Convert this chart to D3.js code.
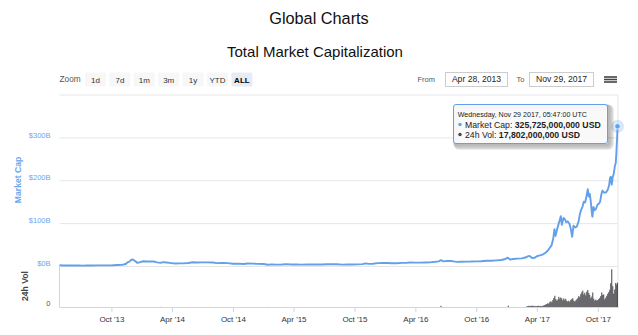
<!DOCTYPE html>
<html><head><meta charset="utf-8">
<script src="https://d3js.org/d3.v7.min.js"></script>
<style>
html,body{margin:0;padding:0;background:#fff;}
svg{display:block;font-family:"Liberation Sans",Arial,sans-serif;}
</style></head><body>
<svg id="c" width="638" height="335"></svg>
<script>
// ---------------- DATA ----------------
const pageTitle = "Global Charts";
const chartTitle = "Total Market Capitalization";
const zoomButtons = ["1d","7d","1m","3m","1y","YTD","ALL"];
const activeButton = "ALL";
const rangeFrom = "Apr 28, 2013";
const rangeTo = "Nov 29, 2017";

// total market cap, billions USD
const capDates = [
"2013-04-28","2013-05-10","2013-05-25","2013-06-10","2013-06-25","2013-07-05","2013-07-20","2013-08-05","2013-08-20","2013-09-05",
"2013-09-20","2013-10-05","2013-10-20","2013-10-31","2013-11-07","2013-11-14","2013-11-19","2013-11-24","2013-11-29","2013-12-04",
"2013-12-10","2013-12-18","2013-12-24","2014-01-05","2014-01-15","2014-01-28","2014-02-05","2014-02-15","2014-02-25","2014-03-05",
"2014-03-15","2014-03-25","2014-04-05","2014-04-12","2014-04-25","2014-05-05","2014-05-20","2014-06-03","2014-06-15","2014-07-01",
"2014-07-15","2014-08-01","2014-08-15","2014-09-01","2014-09-15","2014-10-01","2014-10-15","2014-11-01","2014-11-15","2014-12-01",
"2014-12-15","2015-01-01","2015-01-14","2015-01-25","2015-02-10","2015-02-25","2015-03-10","2015-03-25","2015-04-10","2015-04-25",
"2015-05-10","2015-05-25","2015-06-10","2015-06-25","2015-07-10","2015-07-25","2015-08-10","2015-08-25","2015-09-10","2015-09-25",
"2015-10-10","2015-10-25","2015-11-04","2015-11-12","2015-11-25","2015-12-10","2015-12-25","2016-01-10","2016-01-20","2016-02-05",
"2016-02-20","2016-03-05","2016-03-15","2016-04-01","2016-04-15","2016-05-01","2016-05-15","2016-05-31","2016-06-10","2016-06-17",
"2016-06-24","2016-07-05","2016-07-20","2016-08-03","2016-08-15","2016-09-01","2016-09-15","2016-10-01","2016-10-15","2016-11-01",
"2016-11-15","2016-12-01","2016-12-15","2016-12-25","2017-01-04","2017-01-11","2017-01-20","2017-02-01","2017-02-15","2017-02-25",
"2017-03-05","2017-03-10","2017-03-18","2017-03-25","2017-04-01","2017-04-10","2017-04-20","2017-04-28","2017-05-05","2017-05-10",
"2017-05-15","2017-05-20","2017-05-24","2017-05-27","2017-06-01","2017-06-06","2017-06-12","2017-06-15","2017-06-20","2017-06-25",
"2017-06-28","2017-07-03","2017-07-08","2017-07-12","2017-07-16","2017-07-20","2017-07-25","2017-07-30","2017-08-04","2017-08-08",
"2017-08-12","2017-08-16","2017-08-20","2017-08-24","2017-08-28","2017-09-01","2017-09-04","2017-09-07","2017-09-10","2017-09-14",
"2017-09-15","2017-09-18","2017-09-22","2017-09-26","2017-09-30","2017-10-04","2017-10-08","2017-10-12","2017-10-15","2017-10-19",
"2017-10-22","2017-10-26","2017-10-31","2017-11-04","2017-11-07","2017-11-09","2017-11-12","2017-11-15","2017-11-18","2017-11-21",
"2017-11-24","2017-11-26","2017-11-27","2017-11-28","2017-11-29T05:47:00Z"];
const capValues = [
1.58,1.32,1.40,1.15,1.14,0.85,1.04,1.17,1.34,1.46,
1.52,1.58,2.18,2.55,3.5,5.2,9.0,10.3,14.0,15.4,
12.0,7.3,8.6,11.0,10.6,10.8,10.4,8.5,7.3,9.0,
8.3,7.4,6.2,5.8,6.2,6.1,6.9,8.7,8.2,8.4,
8.5,8.1,6.7,6.9,6.6,5.4,5.5,4.8,5.7,5.5,
5.0,4.6,2.8,3.9,3.3,3.6,4.3,3.6,3.4,3.3,
3.5,3.4,3.4,3.6,4.2,4.3,4.1,3.3,3.6,3.6,
3.7,4.3,6.2,5.0,5.4,6.8,6.9,6.9,6.3,6.5,
7.3,7.4,8.1,7.8,7.9,8.3,8.5,9.8,10.8,13.5,
10.9,11.6,11.5,9.6,10.0,10.3,10.4,10.9,11.0,12.1,
12.2,13.2,13.9,15.7,19.3,14.8,16.3,17.2,17.9,19.8,
22.5,23.5,18.8,19.0,22.8,24.6,27.2,31.5,37.0,42.6,
48.0,62.8,86.0,70.0,86.0,100.0,116.0,96.0,112.0,108.0,
102.0,104.0,98.0,86.0,68.0,94.0,90.0,92.0,103.0,120.0,
131.0,138.0,150.0,148.0,162.0,179.0,162.0,168.0,150.0,118.0,
115.0,138.0,130.0,134.0,143.0,145.0,150.0,168.0,176.0,172.0,
171.0,172.0,178.0,188.0,206.0,208.0,190.0,208.0,215.0,232.0,
240.0,265.0,283.0,296.0,325.725];

// 24h volume, billions USD
const volDates = [
"2014-02-25","2015-01-15","2016-06-17","2017-01-05",
"2017-03-02","2017-03-05","2017-03-08","2017-03-11","2017-03-14","2017-03-17","2017-03-20","2017-03-23","2017-03-26","2017-03-29",
"2017-04-01","2017-04-04","2017-04-07","2017-04-10","2017-04-13","2017-04-16","2017-04-19","2017-04-22","2017-04-25","2017-04-28",
"2017-05-01","2017-05-04","2017-05-07","2017-05-10","2017-05-13","2017-05-16","2017-05-19","2017-05-22","2017-05-25","2017-05-28","2017-05-31",
"2017-06-03","2017-06-06","2017-06-09","2017-06-12","2017-06-15","2017-06-18","2017-06-21","2017-06-24","2017-06-27","2017-06-30",
"2017-07-03","2017-07-06","2017-07-09","2017-07-12","2017-07-15","2017-07-18","2017-07-21","2017-07-24","2017-07-27","2017-07-30",
"2017-08-02","2017-08-05","2017-08-08","2017-08-11","2017-08-14","2017-08-17","2017-08-20","2017-08-23","2017-08-26","2017-08-29",
"2017-09-01","2017-09-04","2017-09-07","2017-09-10","2017-09-13","2017-09-16","2017-09-19","2017-09-22","2017-09-25","2017-09-28",
"2017-10-01","2017-10-04","2017-10-07","2017-10-10","2017-10-13","2017-10-16","2017-10-19","2017-10-22","2017-10-25","2017-10-28","2017-10-31",
"2017-11-03","2017-11-06","2017-11-09","2017-11-12","2017-11-15","2017-11-18","2017-11-21","2017-11-24","2017-11-27","2017-11-29"];
const volValues = [
0.1,0.08,0.9,1.0,
0.5,0.6,0.9,0.8,0.7,1.0,0.9,0.7,0.8,0.6,
0.7,0.9,0.8,0.7,0.8,0.6,0.9,1.1,1.5,1.9,
2.2,2.8,2.4,3.6,4.2,3.5,5.0,6.6,8.2,5.8,4.6,
5.4,7.4,6.0,7.0,6.2,4.8,6.3,5.2,6.0,4.4,
4.0,4.6,3.8,5.2,5.8,6.4,4.6,4.0,4.8,5.6,
6.5,8.0,7.2,9.4,10.8,12.0,9.2,10.4,8.6,11.2,
12.4,10.2,8.8,6.4,7.6,10.6,6.0,4.6,5.4,4.8,
5.0,5.8,6.6,8.0,10.6,8.8,9.2,5.6,6.8,8.2,9.6,
10.8,12.6,17.4,27.6,15.2,9.8,12.8,17.6,16.4,17.8];

const xTickDates = ["2013-10-01","2014-04-01","2014-10-01","2015-04-01","2015-10-01","2016-04-01","2016-10-01","2017-04-01","2017-10-01"];
const capTicks = [0,100,200,300,400];
const capLabelTicks = [0,100,200,300];
const volTicks = [0];

const tipHeader = "Wednesday, Nov 29 2017, 05:47:00 UTC";
const tipCap = 325725000000;
const tipVol = 17802000000;

// ---------------- CHART ----------------
const capColor = "#62a0ea", volColor = "#434348";
const svg = d3.select("#c");
const L = 59.5, R = 617.5;
const capTop = 94.5, capBot = 266, volTop = 266, volBot = 307;

const x = d3.scaleUtc()
  .domain([new Date("2013-04-28"), new Date("2017-11-29T05:47:00Z")])
  .range([L, R]);
const y = d3.scaleLinear().domain([0, 400]).range([capBot, capTop]);
const yv = d3.scaleLinear().domain([0, 30]).range([volBot, volTop]);

// titles
svg.append("text").attr("x", 319).attr("y", 24).attr("text-anchor","middle")
  .attr("font-size", 16.3).attr("fill","#111").text(pageTitle);
svg.append("text").attr("x", 315).attr("y", 56.5).attr("text-anchor","middle")
  .attr("font-size", 15).attr("fill","#111").text(chartTitle);

// range selector
svg.append("text").attr("x", 59.5).attr("y", 82).attr("font-size", 8.3)
  .attr("fill","#555").text("Zoom");
const btn = svg.append("g").selectAll("g").data(zoomButtons).join("g")
  .attr("transform",(d,i)=>`translate(${85 + i*24.4},72.5)`);
btn.append("rect").attr("width",21).attr("height",14).attr("rx",1.5)
  .attr("fill", d => d===activeButton ? "#e6ebf5" : "#f7f7f7");
btn.append("text").attr("x",10.5).attr("y",10).attr("text-anchor","middle")
  .attr("font-size", 8).attr("fill", d => d===activeButton ? "#000" : "#333")
  .attr("font-weight", d => d===activeButton ? "bold" : "normal").text(d=>d);

svg.append("text").attr("x", 435).attr("y", 82).attr("text-anchor","end")
  .attr("font-size", 7.5).attr("fill","#555").text("From");
svg.append("rect").attr("x",445.5).attr("y",72.5).attr("width",62).attr("height",14)
  .attr("fill","#fff").attr("stroke","#cccccc");
svg.append("text").attr("x", 476.5).attr("y", 82.3).attr("text-anchor","middle")
  .attr("font-size", 8.6).attr("fill","#222").text(rangeFrom);
svg.append("text").attr("x", 524.5).attr("y", 82).attr("text-anchor","end")
  .attr("font-size", 7.5).attr("fill","#555").text("To");
svg.append("rect").attr("x",529.5).attr("y",72.5).attr("width",64).attr("height",14)
  .attr("fill","#fff").attr("stroke","#cccccc");
svg.append("text").attr("x", 561.5).attr("y", 82.3).attr("text-anchor","middle")
  .attr("font-size", 8.6).attr("fill","#222").text(rangeTo);
// menu icon
[77, 79.5, 82].forEach(yy => svg.append("line").attr("x1",604).attr("x2",617)
  .attr("y1",yy).attr("y2",yy).attr("stroke","#444").attr("stroke-width",1.6));

// gridlines (market cap pane)
svg.append("g").attr("transform",`translate(${L},0)`)
  .call(d3.axisLeft(y).tickValues(capTicks).tickSize(-(R-L)).tickFormat(""))
  .call(g => g.select(".domain").remove())
  .call(g => g.selectAll("line").attr("stroke","#e6e6e6"));
// labels
svg.append("g").attr("transform",`translate(${L},0)`)
  .call(d3.axisLeft(y).tickValues(capLabelTicks).tickSize(0).tickPadding(9).tickFormat(d=>"$"+d+"B"))
  .call(g => g.select(".domain").remove())
  .call(g => g.selectAll("text").attr("font-family","Liberation Sans, Arial, sans-serif")
     .attr("font-size",7.5).attr("fill","#6aa8ec").attr("dy","-0.05em"));

// right border
svg.append("line").attr("x1",R+0.5).attr("x2",R+0.5).attr("y1",capTop).attr("y2",volBot)
  .attr("stroke","#e6e6e6");

// volume pane axes
svg.append("line").attr("x1",L).attr("x2",L).attr("y1",volTop).attr("y2",volBot)
  .attr("stroke","#ccd6eb");
svg.append("g").attr("transform",`translate(${L},0)`)
  .call(d3.axisLeft(yv).tickValues(volTicks).tickSize(0).tickPadding(9).tickFormat(d=>String(d)))
  .call(g => g.select(".domain").remove())
  .call(g => g.selectAll("text").attr("font-family","Liberation Sans, Arial, sans-serif")
     .attr("font-size",7.5).attr("fill","#555").attr("dy","-0.15em"));

// volume bars
const vol = volDates.map((d,i)=>({d:new Date(d), v:volValues[i]}));
const step = x(new Date("2017-03-05")) - x(new Date("2017-03-02"));
svg.append("g").selectAll("rect").data(vol).join("rect")
  .attr("x", d => x(d.d) - step/2)
  .attr("width", step)
  .attr("y", d => yv(d.v))
  .attr("height", d => volBot - yv(d.v))
  .attr("fill", volColor);

// x axis
svg.append("g").attr("transform",`translate(0,${volBot})`)
  .call(d3.axisBottom(x).tickValues(xTickDates.map(d=>new Date(d)))
     .tickSize(5).tickPadding(4).tickFormat(d3.utcFormat("%b '%y")))
  .call(g => g.select(".domain").attr("stroke","#ccd6eb").attr("d",`M${L},0.5H${R+1}`))
  .call(g => g.selectAll("line").attr("stroke","#ccd6eb"))
  .call(g => g.selectAll("text").attr("font-family","Liberation Sans, Arial, sans-serif")
     .attr("font-size",8).attr("fill","#333"));

// market cap line
const cap = capDates.map((d,i)=>({d:new Date(d), v:capValues[i]}));
svg.append("path").datum(cap)
  .attr("d", d3.line().x(d=>x(d.d)).y(d=>y(d.v)))
  .attr("fill","none").attr("stroke",capColor).attr("stroke-width",1.9)
  .attr("stroke-linejoin","round");

// axis titles
svg.append("text").attr("transform","translate(21,180) rotate(-90)")
  .attr("text-anchor","middle").attr("font-size",8.6).attr("font-weight","bold")
  .attr("fill","#6aa8ec").text("Market Cap");
svg.append("text").attr("transform","translate(28,286) rotate(-90)")
  .attr("text-anchor","middle").attr("font-size",8.6).attr("font-weight","bold")
  .attr("fill","#444").text("24h Vol");

// hover marker
const last = cap[cap.length-1];
svg.append("circle").attr("cx",x(last.d)).attr("cy",y(last.v)).attr("r",6.5)
  .attr("fill",capColor).attr("opacity",0.25);
svg.append("circle").attr("cx",x(last.d)).attr("cy",y(last.v)).attr("r",2.8)
  .attr("fill",capColor).attr("stroke","#fff").attr("stroke-width",0.8);

// tooltip
const tt = svg.append("g").attr("transform","translate(453.5,104.5)");
[3,2,1].forEach(o => tt.append("rect").attr("x",o).attr("y",o).attr("width",154).attr("height",39)
  .attr("rx",2.5).attr("fill","none").attr("stroke","#000").attr("stroke-opacity",0.05*o).attr("stroke-width",o*2));
tt.append("rect").attr("width",154).attr("height",39).attr("rx",2.5)
  .attr("fill","rgba(249,249,249,0.95)").attr("stroke",capColor);
tt.append("text").attr("x",4.3).attr("y",12.8).attr("font-size",7.1).attr("fill","#222").text(tipHeader);
const fmt = d3.format(",");
tt.append("circle").attr("cx",6.5).attr("cy",20).attr("r",1.7).attr("fill",capColor);
const t1 = tt.append("text").attr("x",11.5).attr("y",23).attr("font-size",8.7).attr("fill","#222");
t1.append("tspan").text("Market Cap: ");
t1.append("tspan").attr("font-weight","bold").text(fmt(tipCap)+" USD");
tt.append("circle").attr("cx",6.5).attr("cy",30).attr("r",1.7).attr("fill",volColor);
const t2 = tt.append("text").attr("x",11.5).attr("y",33).attr("font-size",8.7).attr("fill","#222");
t2.append("tspan").text("24h Vol: ");
t2.append("tspan").attr("font-weight","bold").text(fmt(tipVol)+" USD");
</script>
</body></html>
